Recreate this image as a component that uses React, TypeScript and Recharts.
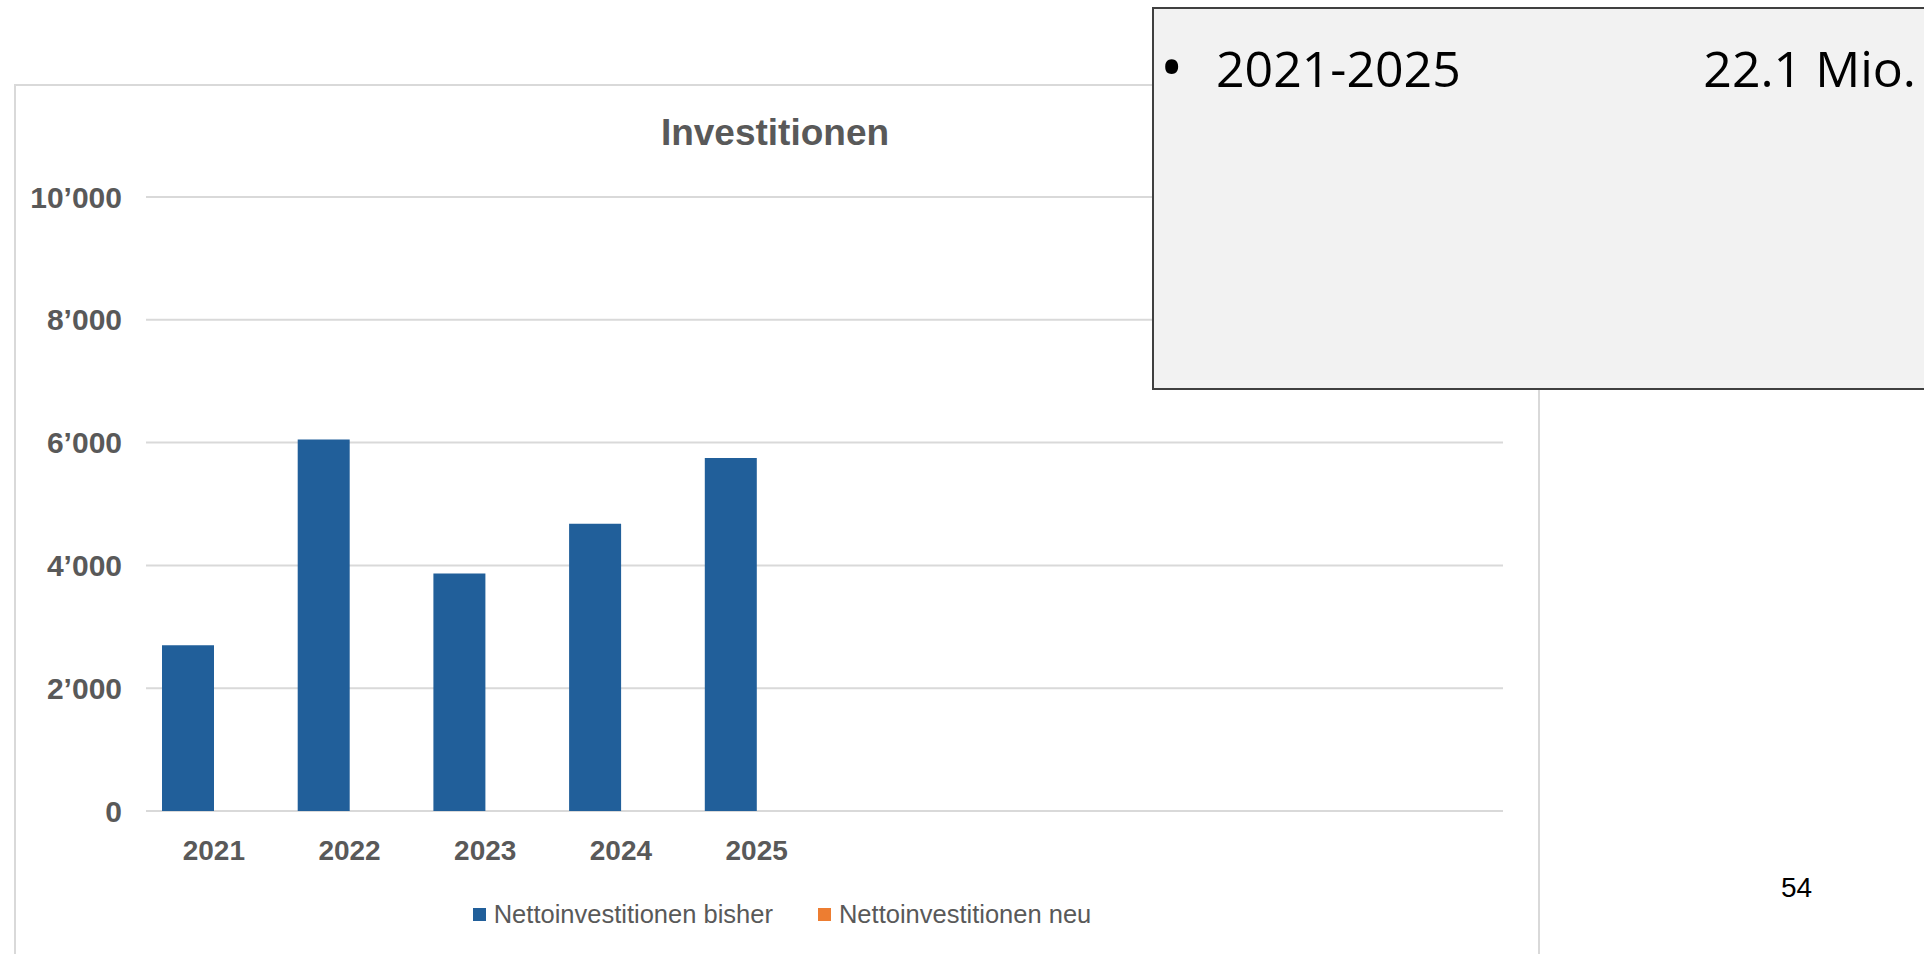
import React from 'react';
import { BarChart, Bar, XAxis, YAxis, CartesianGrid, Legend } from 'recharts';

// categories: the sheet reserves ten year slots, only the first five are labelled
const years = ['2021', '2022', '2023', '2024', '2025', '', '', '', '', ''];
const bisher = [2700, 6050, 3870, 4680, 5750, null, null, null, null, null];
const neu = [0, 0, 0, 0, 0, null, null, null, null, null];
const yTicks = [0, 2000, 4000, 6000, 8000, 10000];

const seriesNames = ['Nettoinvestitionen bisher', 'Nettoinvestitionen neu'];
const boxPeriod = '2021-2025';
const boxTotal = '22.1 Mio.';
const pageNo = '54';

const data = years.map((year, i) => ({ year, bisher: bisher[i], neu: neu[i] }));

const NARROW = "'Liberation Sans Narrow', 'Arial Narrow', 'Liberation Sans', sans-serif";
const GREY = '#595959';

const fmt = (v: number) => String(v).replace(/\B(?=(\d{3})+(?!\d))/g, '\u2019');

const LegendContent = (props: any) => {
  const { payload } = props;
  return (
    <div
      style={{
        display: 'flex',
        justifyContent: 'center',
        gap: 45,
        fontFamily: NARROW,
        fontSize: 25.5,
        color: GREY,
        lineHeight: '28px',
      }}
    >
      {(payload || []).map((p: any) => (
        <div key={p.value} style={{ display: 'flex', alignItems: 'center', gap: 8 }}>
          <span style={{ width: 13, height: 13, background: p.color, display: 'inline-block' }} />
          <span>{p.value}</span>
        </div>
      ))}
    </div>
  );
};

export default function App() {
  return (
    <div
      style={{
        position: 'relative',
        width: 1924,
        height: 954,
        overflow: 'hidden',
        background: '#fff',
      }}
    >
      <style>{`body{margin:0}`}</style>

      {/* chart frame */}
      <div
        style={{
          position: 'absolute',
          left: 14,
          top: 84,
          width: 1522,
          height: 920,
          border: '2px solid #D9D9D9',
        }}
      />

      <div
        style={{
          position: 'absolute',
          left: 0,
          width: 1550,
          top: 112,
          textAlign: 'center',
          fontFamily: NARROW,
          fontWeight: 'bold',
          fontSize: 37,
          color: GREY,
        }}
      >
        Investitionen
      </div>

      <div style={{ position: 'absolute', left: 0, top: 0 }}>
        <BarChart
          width={1538}
          height={954}
          data={data}
          margin={{ top: 197, right: 35, left: 26, bottom: 83 }}
          barCategoryGap={16}
          barGap={0}
        >
          <CartesianGrid vertical={false} stroke="#D9D9D9" strokeWidth={2} />
          <XAxis
            dataKey="year"
            axisLine={false}
            tickLine={false}
            tickSize={0}
            tickMargin={29}
            height={60}
            interval={0}
            tick={{ fill: GREY, fontSize: 28, fontWeight: 'bold', fontFamily: NARROW }}
          />
          <YAxis
            width={120}
            domain={[0, 10000]}
            ticks={yTicks}
            axisLine={false}
            tickLine={false}
            tickSize={0}
            tickMargin={24}
            tickFormatter={fmt}
            tick={{ fill: GREY, fontSize: 30, fontWeight: 'bold', fontFamily: NARROW }}
          />
          <Bar dataKey="bisher" name={seriesNames[0]} fill="#215F9A" isAnimationActive={false} />
          <Bar dataKey="neu" name={seriesNames[1]} fill="#ED7D31" isAnimationActive={false} />
          <Legend
            verticalAlign="middle"
            align="center"
            layout="horizontal"
            content={<LegendContent />}
            wrapperStyle={{ top: 900, left: 0, width: 1564 }}
          />
        </BarChart>
      </div>

      {/* text box */}
      <div
        style={{
          position: 'absolute',
          left: 1152,
          top: 7,
          width: 800,
          height: 379,
          background: '#F2F2F2',
          border: '2px solid #404040',
        }}
      />
      <div
        style={{
          position: 'absolute',
          left: 1160,
          top: 30,
          fontFamily: "'Open Sans', sans-serif",
          fontSize: 62,
          color: '#000',
          lineHeight: '70px',
        }}
      >
        {'\u2022'}
      </div>
      <div
        style={{
          position: 'absolute',
          left: 1216,
          top: 33,
          fontFamily: "'Open Sans', sans-serif",
          fontSize: 50,
          color: '#000',
          lineHeight: '70px',
        }}
      >
        {boxPeriod}
      </div>
      <div
        style={{
          position: 'absolute',
          right: 1924 - 1916,
          top: 33,
          fontFamily: "'Open Sans', sans-serif",
          fontSize: 50,
          color: '#000',
          lineHeight: '70px',
        }}
      >
        {boxTotal}
      </div>

      <div
        style={{
          position: 'absolute',
          left: 1781,
          top: 872,
          fontFamily: NARROW,
          fontSize: 28,
          color: '#000',
        }}
      >
        {pageNo}
      </div>
    </div>
  );
}
